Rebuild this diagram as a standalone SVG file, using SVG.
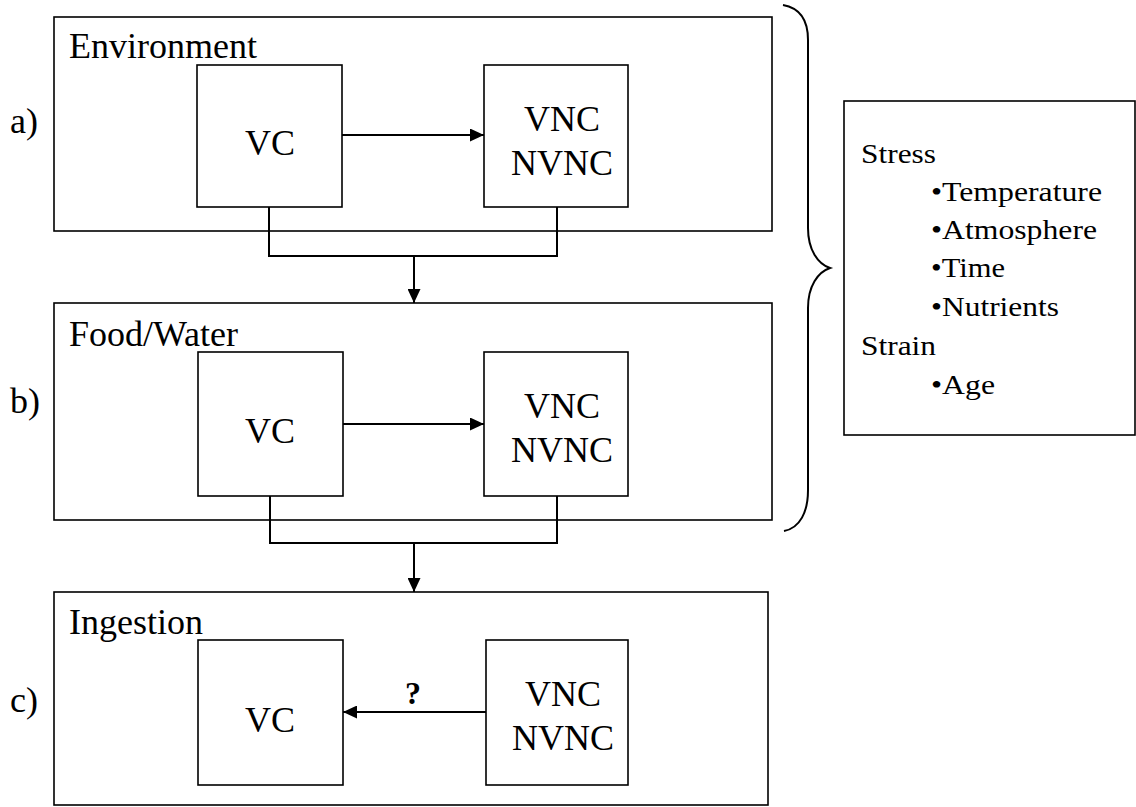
<svg xmlns="http://www.w3.org/2000/svg" width="1136" height="807" viewBox="0 0 1136 807" font-family="'Liberation Serif', 'Times New Roman', Times, serif">
<style>
.box{fill:none;stroke:#000;stroke-width:1.6}
.ln{fill:none;stroke:#000;stroke-width:2}
text{font-family:'Liberation Serif','Times New Roman',Times,serif;fill:#000}
.lbl{font-size:36px}
.mid{text-anchor:middle}
.side{font-size:27px}
.q{font-size:32px;font-weight:bold}
</style>
<defs>
<marker id="ah" markerUnits="userSpaceOnUse" markerWidth="15" markerHeight="13" refX="14" refY="6.5" orient="auto">
<path d="M0,0 L14,6.5 L0,13 Z" fill="#000"/>
</marker>
</defs>
<rect width="1136" height="807" fill="#fff"/>

<g id="panel-a">
<rect class="box" x="54" y="17" width="718" height="214"/>
<text class="lbl" x="69" y="58">Environment</text>
<text class="lbl" x="10" y="133">a)</text>
</g>
<g id="vc-a">
<rect class="box" x="197" y="65" width="145" height="142"/>
<text class="lbl mid" x="270" y="155">VC</text>
</g>
<g id="vnc-a">
<rect class="box" x="484" y="65" width="144" height="142"/>
<text class="lbl mid" x="562" y="131">VNC</text>
<text class="lbl mid" x="562" y="175">NVNC</text>
</g>

<g id="panel-b">
<rect class="box" x="54" y="303" width="718" height="217"/>
<text class="lbl" x="69" y="346">Food/Water</text>
<text class="lbl" x="10" y="413">b)</text>
</g>
<g id="vc-b">
<rect class="box" x="198" y="352" width="145" height="144"/>
<text class="lbl mid" x="270" y="443">VC</text>
</g>
<g id="vnc-b">
<rect class="box" x="484" y="352" width="144" height="144"/>
<text class="lbl mid" x="562" y="418">VNC</text>
<text class="lbl mid" x="562" y="462">NVNC</text>
</g>

<g id="panel-c">
<rect class="box" x="54" y="592" width="714" height="213"/>
<text class="lbl" x="69" y="634">Ingestion</text>
<text class="lbl" x="10" y="712">c)</text>
</g>
<g id="vc-c">
<rect class="box" x="198" y="640" width="145" height="145"/>
<text class="lbl mid" x="270" y="732">VC</text>
</g>
<g id="vnc-c">
<rect class="box" x="486" y="640" width="142" height="145"/>
<text class="lbl mid" x="563" y="706">VNC</text>
<text class="lbl mid" x="563" y="750">NVNC</text>
</g>

<g id="factors">
<rect class="box" x="844" y="101" width="291" height="334"/>
<text class="side" x="861" y="163" textLength="75" lengthAdjust="spacingAndGlyphs">Stress</text>
<text class="side" x="931" y="201" textLength="171" lengthAdjust="spacingAndGlyphs">•Temperature</text>
<text class="side" x="931" y="239" textLength="166" lengthAdjust="spacingAndGlyphs">•Atmosphere</text>
<text class="side" x="931" y="277" textLength="74" lengthAdjust="spacingAndGlyphs">•Time</text>
<text class="side" x="931" y="316" textLength="128" lengthAdjust="spacingAndGlyphs">•Nutrients</text>
<text class="side" x="861" y="355" textLength="75" lengthAdjust="spacingAndGlyphs">Strain</text>
<text class="side" x="931" y="394" textLength="64" lengthAdjust="spacingAndGlyphs">•Age</text>
</g>

<g id="connectors">
<line class="ln" x1="342" y1="135" x2="484" y2="135" marker-end="url(#ah)"/>
<polyline class="ln" points="269,207 269,256 557,256 557,207"/>
<line class="ln" x1="414" y1="256" x2="414" y2="303" marker-end="url(#ah)"/>
<line class="ln" x1="343" y1="424" x2="484" y2="424" marker-end="url(#ah)"/>
<polyline class="ln" points="270,496 270,543 557,543 557,496"/>
<line class="ln" x1="414" y1="543" x2="414" y2="592" marker-end="url(#ah)"/>
<line class="ln" x1="486" y1="712" x2="343" y2="712" marker-end="url(#ah)"/>
<text class="q mid" x="413" y="704">?</text>
<path class="ln" d="M783,5 C800,8 808,20 808,40 L808,228 C808,250 818,264 830,268 C818,272 808,286 808,308 L808,490 C808,512 800,528 784,531"/>
</g>
</svg>
